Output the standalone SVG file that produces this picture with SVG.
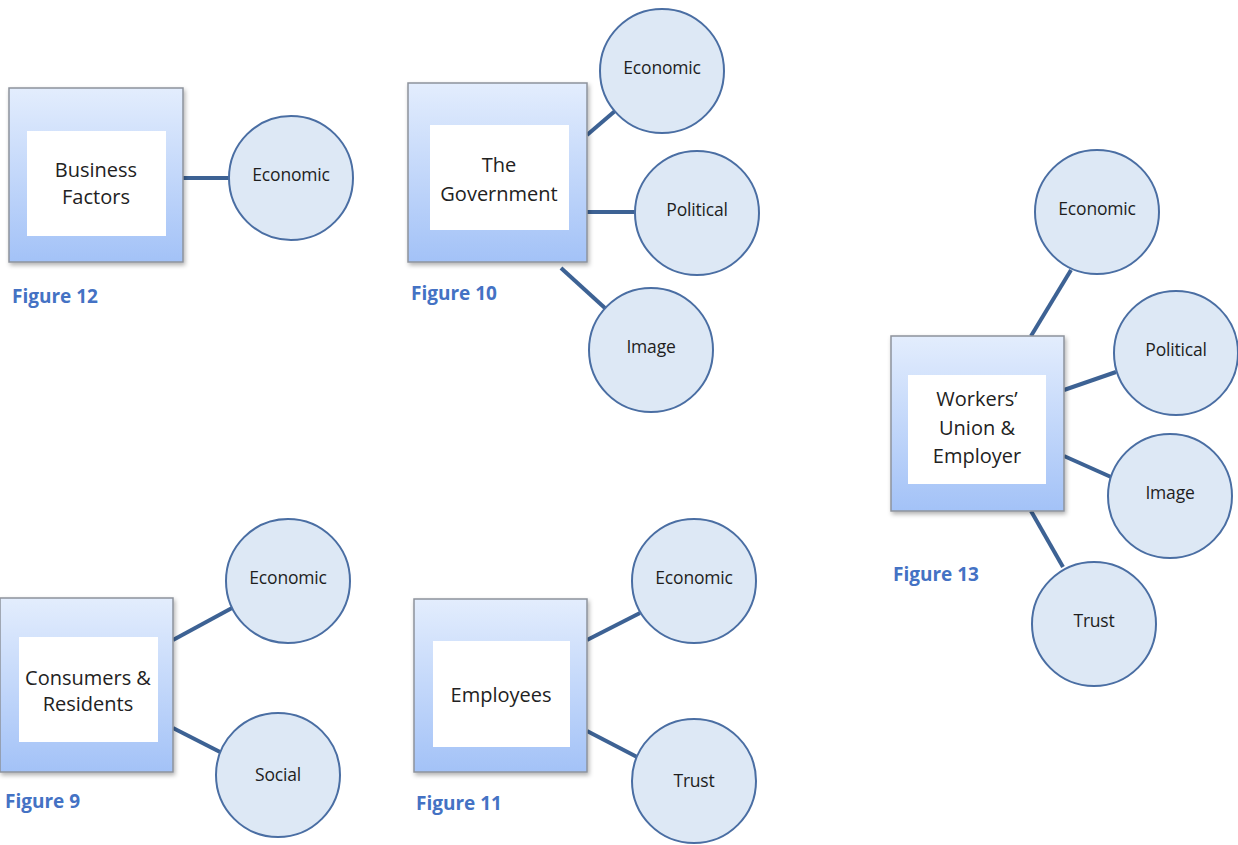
<svg xmlns="http://www.w3.org/2000/svg" width="1238" height="845" viewBox="0 0 1238 845">
<defs>
<linearGradient id="boxg" x1="0" y1="0" x2="0" y2="1">
<stop offset="0" stop-color="#e3edfd"/>
<stop offset="1" stop-color="#a3c2f7"/>
</linearGradient>
<filter id="sh" x="-10%" y="-10%" width="125%" height="125%">
<feDropShadow dx="1.5" dy="2.5" stdDeviation="2" flood-color="#000" flood-opacity="0.3"/>
</filter>
</defs>
<style>
.box{fill:url(#boxg);stroke:#8d939c;stroke-width:1.5;filter:url(#sh)}
.inner{fill:#ffffff}
.circ{fill:#dde8f5;stroke:#4a6ea3;stroke-width:2}
.con{stroke:#3d6294;stroke-width:4;fill:none;stroke-linecap:butt}
.bt{font-family:"Open Sans","DejaVu Sans",sans-serif;font-size:20px;fill:#222;text-anchor:middle}
.ct{font-family:"Open Sans","DejaVu Sans",sans-serif;font-size:17.5px;font-weight:500;fill:#1e1e1e;text-anchor:middle;letter-spacing:-0.2px}
.fig{font-family:"Open Sans","Liberation Sans",sans-serif;font-size:19px;font-weight:bold;fill:#4472c4}
</style>
<rect width="1238" height="845" fill="#ffffff"/>
<g id="connectors">
<line class="con" x1="183" y1="178" x2="230" y2="178"/>
<line class="con" x1="587" y1="135" x2="615" y2="111"/>
<line class="con" x1="587" y1="212" x2="636" y2="212"/>
<line class="con" x1="561" y1="268" x2="606" y2="309"/>
<line class="con" x1="1031" y1="336" x2="1071" y2="270"/>
<line class="con" x1="1064" y1="390" x2="1116" y2="372"/>
<line class="con" x1="1064" y1="456" x2="1111" y2="477"/>
<line class="con" x1="1031" y1="511" x2="1063" y2="567"/>
<line class="con" x1="173" y1="640" x2="232" y2="608"/>
<line class="con" x1="173" y1="728" x2="222" y2="753"/>
<line class="con" x1="587" y1="640" x2="640" y2="613"/>
<line class="con" x1="587" y1="731" x2="639" y2="758"/>
</g>
<g id="fig12">
<g id="business-factors">
<rect class="box" x="9" y="88" width="174" height="174"/>
<rect class="inner" x="27" y="131" width="139" height="105"/>
<text class="bt" x="96" y="177">Business</text>
<text class="bt" x="96" y="204">Factors</text>
</g>
<g id="fig12-economic">
<circle class="circ" cx="291" cy="178" r="62"/>
<text class="ct" x="291" y="181">Economic</text>
</g>
<text class="fig" x="12" y="303">Figure 12</text>
</g>
<g id="fig10">
<g id="government">
<rect class="box" x="408" y="83" width="179" height="179"/>
<rect class="inner" x="430" y="125" width="139" height="105"/>
<text class="bt" x="499" y="172">The</text>
<text class="bt" x="499" y="201">Government</text>
</g>
<g id="fig10-economic">
<circle class="circ" cx="662" cy="71" r="62"/>
<text class="ct" x="662" y="74">Economic</text>
</g>
<g id="fig10-political">
<circle class="circ" cx="697" cy="213" r="62"/>
<text class="ct" x="697" y="216">Political</text>
</g>
<g id="fig10-image">
<circle class="circ" cx="651" cy="350" r="62"/>
<text class="ct" x="651" y="353">Image</text>
</g>
<text class="fig" x="411" y="300">Figure 10</text>
</g>
<g id="fig13">
<g id="workers-union">
<rect class="box" x="891" y="336" width="173" height="175"/>
<rect class="inner" x="908" y="375" width="138" height="109"/>
<text class="bt" x="977" y="406">Workers’</text>
<text class="bt" x="977" y="435">Union &amp;</text>
<text class="bt" x="977" y="463">Employer</text>
</g>
<g id="fig13-economic">
<circle class="circ" cx="1097" cy="212" r="62"/>
<text class="ct" x="1097" y="215">Economic</text>
</g>
<g id="fig13-political">
<circle class="circ" cx="1176" cy="353" r="62"/>
<text class="ct" x="1176" y="356">Political</text>
</g>
<g id="fig13-image">
<circle class="circ" cx="1170" cy="496" r="62"/>
<text class="ct" x="1170" y="499">Image</text>
</g>
<g id="fig13-trust">
<circle class="circ" cx="1094" cy="624" r="62"/>
<text class="ct" x="1094" y="627">Trust</text>
</g>
<text class="fig" x="893" y="581">Figure 13</text>
</g>
<g id="fig9">
<g id="consumers">
<rect class="box" x="0" y="598" width="173" height="174"/>
<rect class="inner" x="19" y="637" width="139" height="105"/>
<text class="bt" x="88" y="685">Consumers &amp;</text>
<text class="bt" x="88" y="711">Residents</text>
</g>
<g id="fig9-economic">
<circle class="circ" cx="288" cy="581" r="62"/>
<text class="ct" x="288" y="584">Economic</text>
</g>
<g id="fig9-social">
<circle class="circ" cx="278" cy="775" r="62"/>
<text class="ct" x="278" y="781">Social</text>
</g>
<text class="fig" x="5" y="808">Figure 9</text>
</g>
<g id="fig11">
<g id="employees">
<rect class="box" x="414" y="599" width="173" height="173"/>
<rect class="inner" x="433" y="641" width="137" height="106"/>
<text class="bt" x="501" y="702">Employees</text>
</g>
<g id="fig11-economic">
<circle class="circ" cx="694" cy="581" r="62"/>
<text class="ct" x="694" y="584">Economic</text>
</g>
<g id="fig11-trust">
<circle class="circ" cx="694" cy="781" r="62"/>
<text class="ct" x="694" y="787">Trust</text>
</g>
<text class="fig" x="416" y="810">Figure 11</text>
</g>
</svg>
